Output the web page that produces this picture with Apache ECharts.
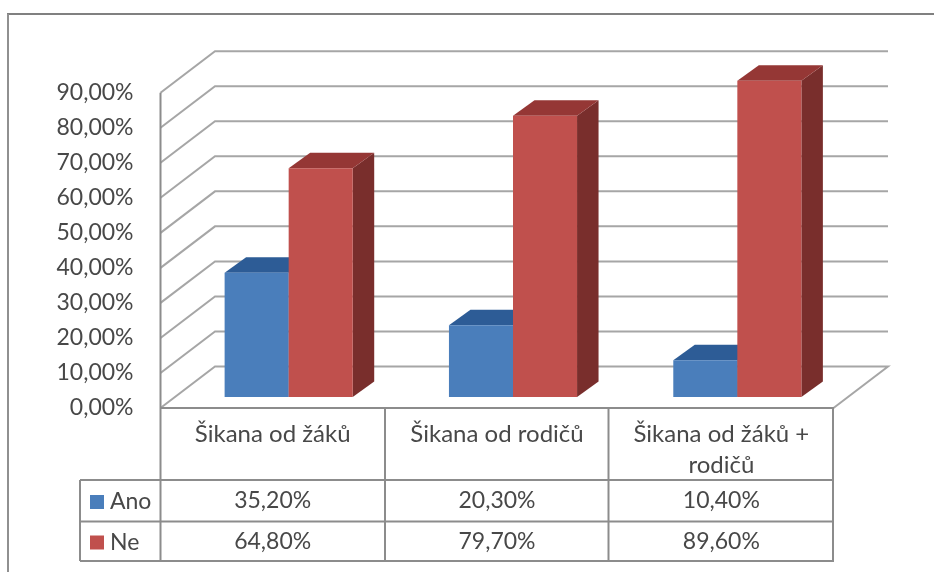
<!DOCTYPE html>
<html>
<head>
<meta charset="utf-8">
<script src="https://cdn.jsdelivr.net/npm/echarts@6/dist/echarts.min.js"></script>
<style>
html,body{margin:0;padding:0;background:#fff}
#c{width:934px;height:572px;filter:blur(0.45px)}
</style>
</head>
<body>
<div id="c"></div>
<script>
const categories = ['Šikana od žáků', 'Šikana od rodičů', 'Šikana od žáků +\nrodičů'];
const seriesNames = ['Ano', 'Ne'];
const ano = [35.2, 20.3, 10.4];
const ne = [64.8, 79.7, 89.6];
const yTicks = [0, 10, 20, 30, 40, 50, 60, 70, 80, 90];
const colors = ['#4a7ebb', '#c0504d'];

const FONT = 'Lato';
const TEXT = '#484848';
const LINE = '#a6a6a6';
const TABLE = '#8c8c8c';
const fmt = v => v.toFixed(2).replace('.', ',') + '%';

const G = {left: 160.5, top: 92.7, width: 673, height: 315.3};
const WALL = {dx: 54.5, dy: -41.5};
const BAR = {frac: 0.2855, dx: 16, dy: -11, scale: 1.0077, depthX: 21.5, depthY: -15.5};
const ROWS = [501, 541.5];
const TOPS = [
  {front: '#4a7ebb', top: '#2d5c96', side: '#28517f'},
  {front: '#c0504d', top: '#953735', side: '#792e2c'}
];

function renderBar(idx) {
  return function (params, api) {
    const cat = api.value(0), val = api.value(1);
    const base = api.coord([cat, 0]);
    const tip = api.coord([cat, val]);
    const bw = api.size([1, 0])[0] * BAR.frac;
    const x0 = base[0] + BAR.dx - (idx === 0 ? bw : 0);
    const x1 = x0 + bw;
    const yb = base[1] + BAR.dy;
    const yt = yb - (base[1] - tip[1]) * BAR.scale;
    const dx = BAR.depthX, dy = BAR.depthY;
    const c = TOPS[idx];
    return {
      type: 'group',
      children: [
        {type: 'polygon', shape: {points: [[x1, yt], [x1 + dx, yt + dy], [x1 + dx, yb + dy], [x1, yb]]}, style: {fill: c.side}},
        {type: 'polygon', shape: {points: [[x0, yt], [x0 + dx, yt + dy], [x1 + dx, yt + dy], [x1, yt]]}, style: {fill: c.top}},
        {type: 'rect', shape: {x: x0, y: yt, width: bw, height: yb - yt}, style: {fill: c.front}},
        {type: 'text', x: base[0], y: ROWS[idx], style: {
          text: fmt(val), font: '23px ' + FONT, fill: TEXT, align: 'center', verticalAlign: 'middle'
        }}
      ]
    };
  };
}

function renderWall(params, api) {
  const v = api.value(1);
  const p = api.coord([0, v]);
  const sys = params.coordSys;
  const xl = sys.x, xr = sys.x + sys.width;
  const y = p[1];
  const pts = [[xl, y], [xl + WALL.dx, y + WALL.dy], [xr + WALL.dx, y + WALL.dy]];
  if (v === 0) pts.push([xr, y]);
  return {type: 'polyline', shape: {points: pts}, style: {stroke: LINE, lineWidth: 2, fill: null}};
}

const H = (x1, x2, y, c, w) => ({type: 'line', shape: {x1, y1: y, x2, y2: y}, style: {stroke: c || TABLE, lineWidth: w || 2}, z: 5});
const V = (x, y1, y2, c, w) => ({type: 'line', shape: {x1: x, y1, x2: x, y2}, style: {stroke: c || TABLE, lineWidth: w || 2}, z: 5});

const chart = echarts.init(document.getElementById('c'), null, {renderer: 'canvas'});
chart.setOption({
  animation: false,
  backgroundColor: '#fff',
  color: colors,
  grid: {left: G.left, top: G.top, width: G.width, height: G.height, containLabel: false},
  legend: {
    orient: 'vertical', left: 85, top: 484, itemWidth: 14, itemHeight: 14, itemGap: 14.5,
    icon: 'rect', selectedMode: false, data: seriesNames,
    textStyle: {fontFamily: FONT, fontSize: 23, color: TEXT, lineHeight: 26, padding: [0, 0, 0, 1]}
  },
  xAxis: {
    type: 'category', data: categories,
    axisLine: {show: false}, axisTick: {show: false}, splitLine: {show: false},
    axisLabel: {interval: 0, margin: 11, fontFamily: FONT, fontSize: 24, color: TEXT, lineHeight: 31, verticalAlign: 'top', align: 'center'}
  },
  yAxis: {
    type: 'value', min: 0, max: 90, interval: 10,
    axisLine: {show: false}, axisTick: {show: false}, splitLine: {show: false},
    axisLabel: {margin: 27, fontFamily: FONT, fontSize: 23, color: TEXT, formatter: fmt, padding: [6, 0, 0, 0]}
  },
  series: [
    {type: 'custom', name: seriesNames[0], coordinateSystem: 'cartesian2d', clip: false, z: 3,
      itemStyle: {color: colors[0]},
      data: ano.map((v, i) => [i, v]), renderItem: renderBar(0), encode: {x: 0, y: 1}},
    {type: 'custom', name: seriesNames[1], coordinateSystem: 'cartesian2d', clip: false, z: 4,
      itemStyle: {color: colors[1]},
      data: ne.map((v, i) => [i, v]), renderItem: renderBar(1), encode: {x: 0, y: 1}},
    {type: 'custom', name: 'wall', coordinateSystem: 'cartesian2d', clip: false, z: 1, silent: true,
      data: yTicks.map(v => [0, v]), renderItem: renderWall, encode: {x: 0, y: 1}}
  ],
  graphic: [
    H(7, 934, 14, '#808080', 2),
    V(8, 14, 572, '#909090', 2),
    V(G.left, G.top, 561),
    H(G.left, 834, 408),
    H(80, 834, 480),
    H(80, 834, 521.5),
    H(80, 834, 561),
    V(80, 480, 561),
    V(385, 408, 561),
    V(608.5, 408, 561),
    V(833, 408, 561)
  ]
});
</script>
</body>
</html>
